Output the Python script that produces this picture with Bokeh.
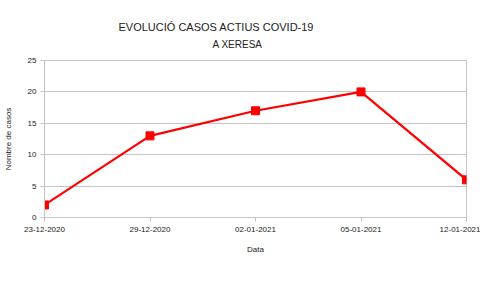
from bokeh.plotting import figure
from bokeh.models import FixedTicker, Range1d, Title
from bokeh.embed import file_html
from bokeh.resources import INLINE

dates = ["23-12-2020", "29-12-2020", "02-01-2021", "05-01-2021", "12-01-2021"]
cases = [2, 13, 17, 20, 6]
y_ticks = [0, 5, 10, 15, 20, 25]
title_text = "EVOLUCIÓ CASOS ACTIUS COVID-19"
subtitle_text = "A XERESA"

FONT = "Liberation Sans"
GRID = "#c4c4c4"
TEXT = "#222222"

xs = list(range(len(dates)))

p = figure(width=480, height=287, output_backend="svg", toolbar_location=None,
           x_range=Range1d(0, len(dates) - 1), y_range=Range1d(0, 25),
           min_border_left=41, min_border_right=14, min_border_top=60,
           min_border_bottom=70)
p.title.visible = False
p.background_fill_color = "white"
p.border_fill_color = "white"
p.outline_line_color = GRID

p.line(xs, cases, line_color="#ff0000", line_width=2.2)
p.scatter(xs, cases, marker="square", size=8, fill_color="#ff0000", line_color="#ff0000")

p.xaxis.ticker = FixedTicker(ticks=xs)
p.xaxis.major_label_overrides = {i: d for i, d in enumerate(dates)}
p.yaxis.ticker = FixedTicker(ticks=y_ticks)
p.xgrid.grid_line_color = None
p.ygrid.grid_line_color = GRID
p.ygrid.grid_line_width = 1

for ax in (p.xaxis[0], p.yaxis[0]):
    ax.axis_line_color = GRID
    ax.major_tick_line_color = GRID
    ax.major_tick_in = 0
    ax.major_tick_out = 4
    ax.minor_tick_line_color = None
    ax.major_label_text_font = FONT
    ax.major_label_text_font_size = "8px"
    ax.major_label_text_color = TEXT
    ax.axis_label_text_font = FONT
    ax.axis_label_text_font_size = "8px"
    ax.axis_label_text_font_style = "normal"
    ax.axis_label_text_color = TEXT

p.xaxis.axis_label = "Data"
p.yaxis.axis_label = "Nombre de casos"
p.xaxis.major_label_standoff = 5
p.yaxis.major_label_standoff = 4
p.xaxis.axis_label_standoff = 10
p.yaxis.axis_label_standoff = 12

# thin spacer between the frame and the subtitle
p.add_layout(Title(text=" ", text_font_size="1px", standoff=4), "above")
p.add_layout(Title(text=subtitle_text, align="left", offset=168, standoff=8,
                   text_font=FONT, text_font_size="10px", text_font_style="normal",
                   text_color=TEXT), "above")
p.add_layout(Title(text=title_text, align="left", offset=74, standoff=0,
                   text_font=FONT, text_font_size="11px", text_font_style="normal",
                   text_color=TEXT), "above")

open("out.html", "w").write(file_html(p, INLINE))
